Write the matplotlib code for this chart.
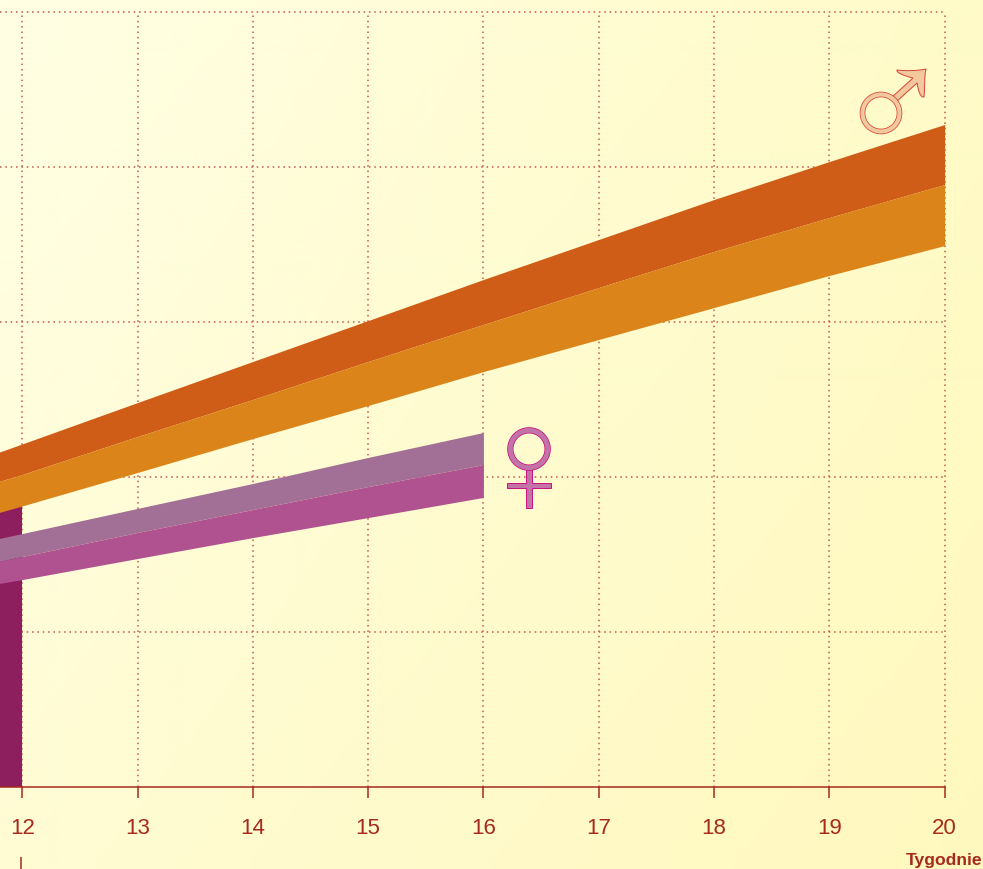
import numpy as np
import matplotlib
matplotlib.use("Agg")
import matplotlib.pyplot as plt
from matplotlib.patches import Circle, PathPatch, Polygon
from matplotlib.path import Path

# weeks, first entry is where the picture is cut off on the left
weeks = [11.80, 12, 13, 14, 15, 16, 17, 18, 19, 20]
tick_weeks = [12, 13, 14, 15, 16, 17, 18, 19, 20]
grid_levels = [1, 2, 3, 4, 5]

male_top = [2.157, 2.210, 2.477, 2.742, 3.006, 3.271, 3.529, 3.787, 4.032, 4.271]
male_mid = [1.968, 2.013, 2.258, 2.497, 2.742, 2.981, 3.219, 3.452, 3.671, 3.884]
male_low = [1.768, 1.810, 2.026, 2.245, 2.458, 2.677, 2.884, 3.090, 3.297, 3.490]

female_weeks = [11.80, 12, 13, 14, 15, 16]
female_top = [1.600, 1.632, 1.794, 1.955, 2.123, 2.284]
female_mid = [1.452, 1.484, 1.639, 1.787, 1.935, 2.077]
female_low = [1.310, 1.335, 1.471, 1.606, 1.735, 1.865]

bar_value = 1.85

RED = "#A62A1E"
W, H = 983, 870

fig = plt.figure(figsize=(W / 100, H / 100), dpi=100)
ax = fig.add_axes([0, 0, 1, 1])
x0 = 12 - 22.2 / 115.3
x1 = x0 + W / 115.3
y0, y1 = -82.5 / 155, 787.5 / 155

# background runs from pale ivory to a warmer yellow, corner to corner
tl, tr = np.array([255, 255, 228]), np.array([255, 251, 200])
bl, br = np.array([255, 252, 212]), np.array([255, 248, 190])
u, v = np.meshgrid(np.linspace(0, 1, 64), np.linspace(0, 1, 64))
u, v = u[..., None], v[..., None]
bg = ((1 - v) * ((1 - u) * tl + u * tr) + v * ((1 - u) * bl + u * br)) / 255
ax.imshow(bg, extent=[x0, x1, y0, y1], aspect="auto", interpolation="bilinear", zorder=0)

dots = (0, (1, 2.5))
ax.hlines(grid_levels, x0, 20, color="#C4584E", lw=1.1, linestyle=dots, zorder=1)
ax.vlines(tick_weeks, 0, 5, color="#C4584E", lw=1.1, linestyle=dots, zorder=1)

ax.bar(12, bar_value, width=x0 - 12, align="edge", color="#8E1F5E", zorder=2)
ax.fill_between(weeks, male_mid, male_top, color="#CF5C17", lw=0, zorder=3)
ax.fill_between(weeks, male_low, male_mid, color="#DB8419", lw=0, zorder=3)
ax.fill_between(female_weeks, female_mid, female_top, color="#A26F96", lw=0, zorder=3)
ax.fill_between(female_weeks, female_low, female_mid, color="#B0528F", lw=0, zorder=3)

ax.set_xlim(x0, x1)
ax.set_ylim(y0, y1)
for s in ["top", "left", "right"]:
    ax.spines[s].set_visible(False)
ax.spines["bottom"].set_position(("data", 0))
ax.spines["bottom"].set_bounds(x0, 20)
ax.spines["bottom"].set_color(RED)
ax.spines["bottom"].set_linewidth(1.1)
ax.spines["bottom"].set_zorder(4)
ax.set_yticks([])
ax.set_xticks(tick_weeks)
ax.tick_params(axis="x", length=8, width=1.1, color=RED, labelcolor=RED, pad=14, labelsize=16)
for lab in ax.get_xticklabels():
    lab.set_family("Liberation Sans")

ax.text(x1 - 0.003, y0 + 0.012, "Tygodnie", color=RED, ha="right", va="bottom",
        family="Liberation Sans", weight="bold", fontsize=12.6)
ax.vlines(11.99, y0, -70 / 155, color=RED, lw=1.1, zorder=4)

# the two symbols are decoration, drawn in pixel coordinates on a top layer
over = fig.add_axes([0, 0, 1, 1], facecolor="none")
over.set_xlim(0, W)
over.set_ylim(H, 0)
over.axis("off")


def ring(cx, cy, r_out, r_in, fill, edge):
    over.add_patch(Circle((cx, cy), (r_out + r_in) / 2, fc="none", ec=edge,
                          lw=(r_out - r_in) * 0.72, zorder=5))
    over.add_patch(Circle((cx, cy), (r_out + r_in) / 2, fc="none", ec=fill,
                          lw=(r_out - r_in - 1.5) * 0.72, zorder=6))


# female
fem_fill, fem_edge = "#C473A9", "#C8107E"
fem = [(525.5, 468), (525.5, 483.5), (506.5, 483.5), (506.5, 488.5), (525.5, 488.5), (525.5, 508.5),
       (532, 508.5), (532, 488.5), (551, 488.5), (551, 483.5), (532, 483.5), (532, 468)]
over.add_patch(Polygon(fem, closed=True, fc=fem_fill, ec=fem_edge, lw=0.7, zorder=5))
ring(529, 450, 21.8, 15.5, fem_fill, fem_edge)

# male
mal_fill, mal_edge = "#F1C99C", "#D9403A"
verts = [(891, 99), (913, 79),
         (905, 77), (896, 74), (897, 71),
         (905, 72), (917, 72), (926, 70),
         (924, 79), (925, 90), (924, 98),
         (920, 99), (918, 90), (917, 84),
         (895, 104), (891, 99)]
codes = [Path.MOVETO, Path.LINETO,
         Path.CURVE4, Path.CURVE4, Path.CURVE4,
         Path.CURVE4, Path.CURVE4, Path.CURVE4,
         Path.CURVE4, Path.CURVE4, Path.CURVE4,
         Path.CURVE4, Path.CURVE4, Path.CURVE4,
         Path.LINETO, Path.CLOSEPOLY]
over.add_patch(PathPatch(Path(verts, codes), fc=mal_fill, ec=mal_edge, lw=0.7, zorder=5))
ring(881, 114, 21.3, 15.7, mal_fill, mal_edge)

fig.savefig("out.png", dpi=100)
